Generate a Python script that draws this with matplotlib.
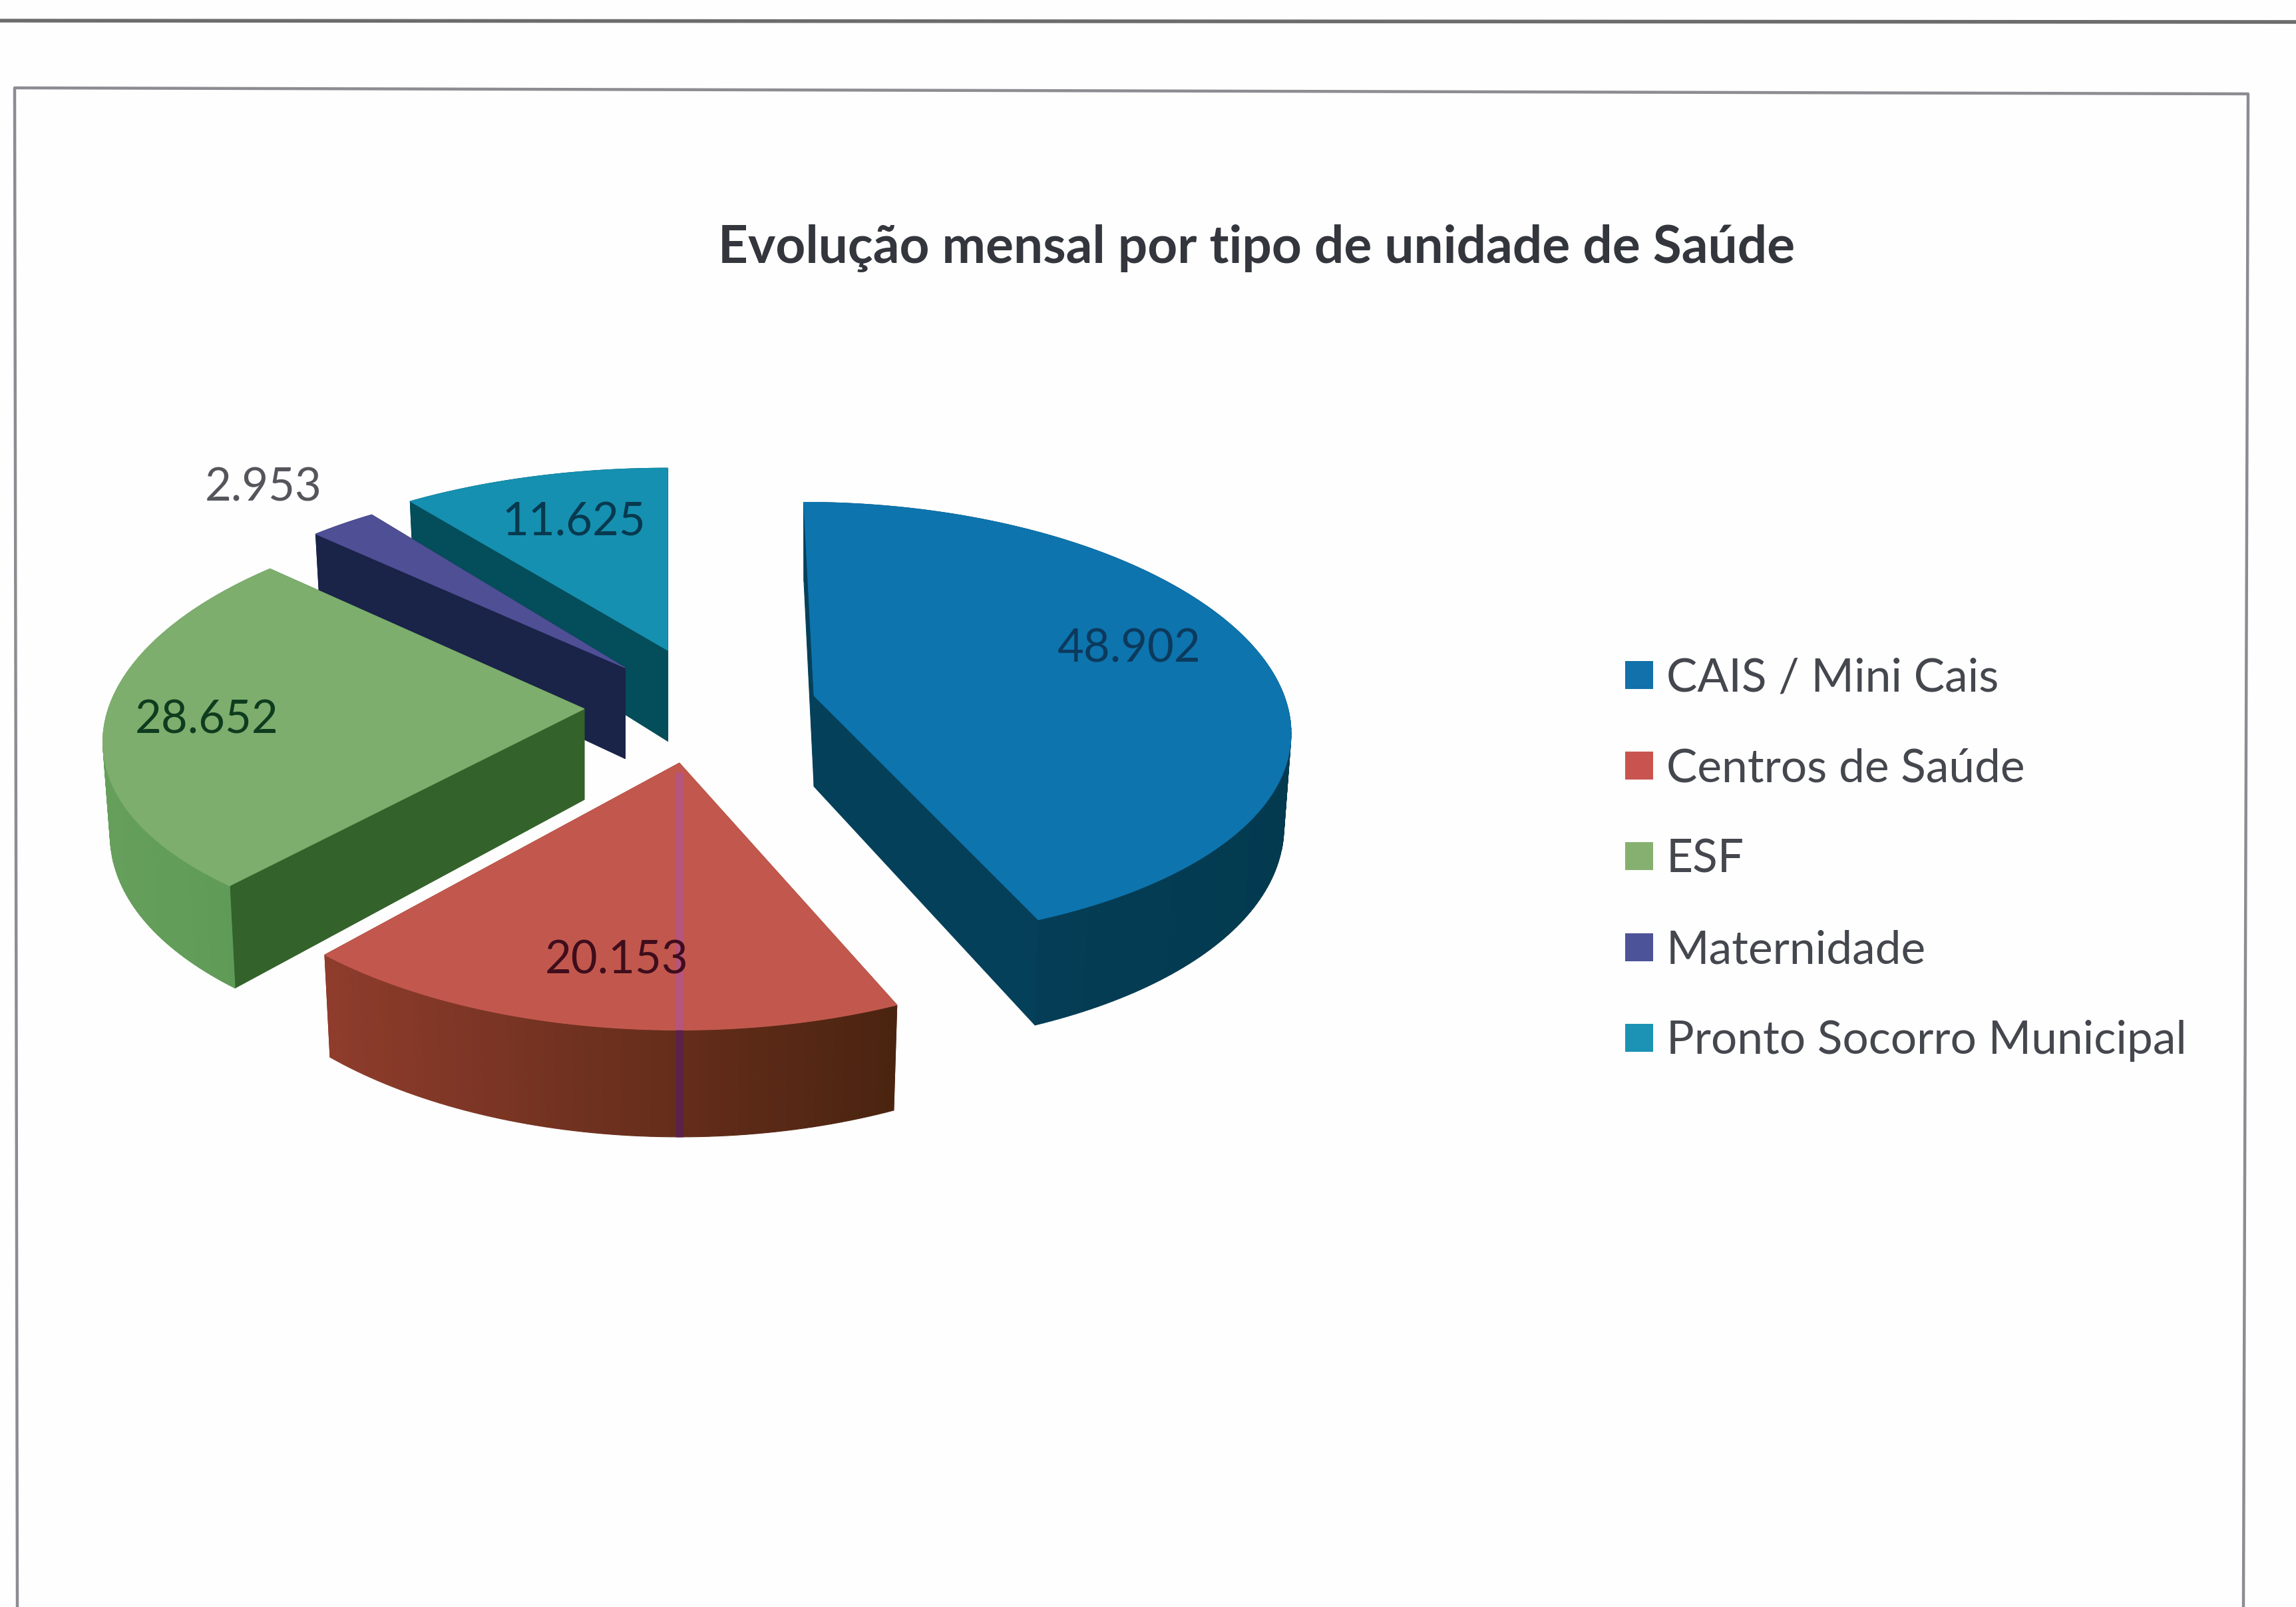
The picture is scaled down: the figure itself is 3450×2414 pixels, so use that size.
#!/usr/bin/env python3
"""Exploded 3D-looking pie: monthly evolution by type of health unit."""
import numpy as np
import matplotlib

matplotlib.use("Agg")
import matplotlib.pyplot as plt
from matplotlib.patches import Patch, Polygon

plt.rcParams["font.family"] = ["Lato", "DejaVu Sans"]

TITLE = "Evolução mensal por tipo de unidade de Saúde"
categories = ["CAIS / Mini Cais", "Centros de Saúde", "ESF", "Maternidade",
              "Pronto Socorro Municipal"]
values = [48902, 20153, 28652, 2953, 11625]
value_labels = ["48.902", "20.153", "28.652", "2.953", "11.625"]

top_colors = ["#0d74ae", "#c2584d", "#7dae6d", "#4f4f96", "#1590b0"]
cut_colors = ["#05405a", "#7a3320", "#33622a", "#1a2348", "#044d5a"]
wall_left = ["#05405a", "#8f3c2c", "#669f5c", "#1a2348", "#044d5a"]
wall_right = ["#033a50", "#4a2410", "#5d9a56", "#1a2348", "#044d5a"]
legend_colors = ["#1270aa", "#c9544f", "#86b070", "#4c5398", "#1c93b4"]
label_colors = ["#0c3a5c", "#3f0d1c", "#0e3c1e", "#55555c", "#07394f"]

# layout, in pixels of the 1568 wide view, scaled by S
S = 2.2
apex = [(556, 475), (464, 521), (399, 484), (427, 456), (456, 444)]
radius_x = [321, 325, 325, 320, 325]
radius_y = [148, 155, 149, 147, 143]
persp_y = [0.121, 0.15, 0.10, 0.15, 0.15]
lean = [-7, 0, 0, 0, 0]
label_pos = [(771, 443), (421, 656), (141, 492), (180, 333), (392, 357)]
PERSP, DEPTH = 0.15, 62 * S


def project(theta, i, drop=False):
    """Angle round rim of slice i (clockwise from 12 o'clock) to screen x, y."""
    ap = apex[i]
    xx, yy = np.sin(theta), np.cos(theta)
    w = 1 + PERSP * yy
    x = S * (radius_x[i] * xx / w + lean[i] * yy)
    y = -S * radius_y[i] * yy / (1 + persp_y[i] * yy)
    if drop:
        return ap[0] * S + 0.985 * x, ap[1] * S + y + DEPTH / w
    return ap[0] * S + x, ap[1] * S + y


def face(ax, xs, ys, color, z):
    ax.add_patch(Polygon(np.column_stack([xs, ys]), closed=True, fc=color, ec=color,
                         lw=0.8, zorder=z))


def mix(c1, c2, t):
    a, b = np.array(matplotlib.colors.to_rgb(c1)), np.array(matplotlib.colors.to_rgb(c2))
    return tuple(a + (b - a) * t)


def draw_slice(ax, t0, t1, i, z):
    th = np.linspace(t0, t1, max(int(np.degrees(t1 - t0)), 8) + 1)
    tx, ty = project(th, i)
    bx, by = project(th, i, drop=True)
    ax0, ay0 = apex[i][0] * S, apex[i][1] * S

    # cut faces first, the top covers whatever should not be seen
    for k in (0, -1):
        face(ax, [ax0, tx[k], bx[k], ax0], [ay0, ty[k], by[k], ay0 + DEPTH], cut_colors[i], z)

    # outer wall, shaded from left to right
    x0, x1 = tx.min(), tx.max()
    for k in range(len(th) - 1):
        t = (0.5 * (tx[k] + tx[k + 1]) - x0) / max(x1 - x0, 1)
        col = mix(wall_left[i], wall_right[i], t)
        face(ax, [tx[k], tx[k + 1], bx[k + 1], bx[k]], [ty[k], ty[k + 1], by[k + 1], by[k]],
             col, z + 0.1)

    face(ax, np.r_[ax0, tx], np.r_[ay0, ty], top_colors[i], z + 0.2)


fig = plt.figure(figsize=(34.5, 24.14), dpi=100, facecolor="#fefefe")
ax = fig.add_axes([0, 0, 1, 1])
ax.set_xlim(0, 3450)
ax.set_ylim(2414, 0)
ax.axis("off")

# scanned page: rule at the top and the chart frame
ax.plot([0, 3450], [31, 33], color="#6c6c6c", lw=4.0, zorder=1)
ax.plot([26, 22, 3378, 3371], [2414, 132, 141, 2414], color="#8c8c92", lw=3.2, zorder=1)

fractions = np.array(values) / np.sum(values)
edges = np.r_[0, np.cumsum(fractions)] * 2 * np.pi

# far slices first
for z, i in enumerate([4, 3, 2, 0, 1]):
    draw_slice(ax, edges[i], edges[i + 1], i, 2 + z)

# scanner streak down the red slice
sx, sy = project(np.pi, 1)
_, sb = project(np.pi, 1, drop=True)
ax.plot([sx, sx], [apex[1][1] * S + 14, sy], color="#b4558a", lw=8, alpha=0.8, zorder=8,
        solid_capstyle="butt")
ax.plot([sx, sx], [sy, sb], color="#5a1f55", lw=8, alpha=0.8, zorder=8, solid_capstyle="butt")

for txt, pos, col in zip(value_labels, label_pos, label_colors):
    ax.text(pos[0] * S, pos[1] * S, txt, color=col, fontsize=49.5, ha="center", va="center",
            zorder=10)

ax.text(858 * S, 169.5 * S, TITLE, color="#33363c", fontsize=56.4, fontweight="bold",
        ha="center", va="center", zorder=10)

handles = [Patch(fc=c, ec="none", label=n) for c, n in zip(legend_colors, categories)]
leg = ax.legend(handles=handles, loc="center left", bbox_to_anchor=(1110 * S, 587 * S),
                bbox_transform=ax.transData, frameon=False, fontsize=50, handlelength=0.6,
                handleheight=0.55, handletextpad=0.29, labelspacing=1.055, borderpad=0,
                borderaxespad=0)
for t in leg.get_texts():
    t.set_color("#44474d")

fig.savefig("out.png", dpi=100, facecolor=fig.get_facecolor())
